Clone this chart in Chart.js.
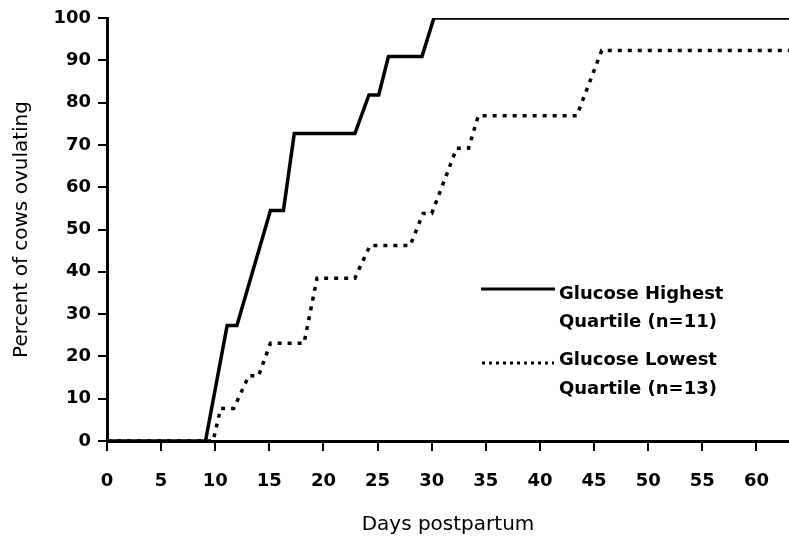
<!DOCTYPE html>
<html>
<head>
<meta charset="utf-8">
<script src="https://cdn.jsdelivr.net/npm/chart.js@4.4.1/dist/chart.umd.min.js"></script>
<style>
  html, body { margin: 0; padding: 0; background: #fff; }
  #wrap { width: 789px; height: 545px; }
</style>
</head>
<body>
<div id="wrap"><canvas id="myChart" width="789" height="545"></canvas></div>
<script>
// days postpartum / percent ovulating
var highDays = [0, 9.1, 11.1, 12.0, 15.1, 16.3, 17.3, 22.9, 24.2, 25.1, 26.0, 29.1, 30.2, 63];
var highPct  = [0, 0, 27.3, 27.3, 54.5, 54.5, 72.7, 72.7, 81.8, 81.8, 90.9, 90.9, 100, 100];

var lowDays = [0, 9.8, 10.5, 11.7, 13.1, 14.0, 15.1, 18.2, 19.4, 22.9, 24.3, 28.0, 29.2, 30.0, 32.3, 33.4, 34.3, 43.4, 45.7, 63];
var lowPct  = [0, 0, 7.7, 7.7, 15.4, 15.4, 23.1, 23.1, 38.5, 38.5, 46.2, 46.2, 53.8, 53.8, 69.2, 69.2, 76.9, 76.9, 92.3, 92.3];

var seriesNames = [
  ['Glucose Highest', 'Quartile (n=11)'],
  ['Glucose Lowest', 'Quartile (n=13)']
];

var xTitle = 'Days postpartum';
var yTitle = 'Percent of cows ovulating';

function toPoints(xs, ys) {
  return xs.map(function (x, i) { return { x: x, y: ys[i] }; });
}

var FONT = "'DejaVu Sans', sans-serif";

// legend drawn inside the plot, two text lines per entry
var insideLegend = {
  id: 'insideLegend',
  afterDraw: function (chart) {
    var ctx = chart.ctx;
    var rows = [
      { x1: 481, x2: 555, ly: 289, ty: [294, 322], dash: [] },
      { x1: 482, x2: 554, ly: 363, ty: [360, 389], dash: [3, 4] }
    ];
    ctx.save();
    rows.forEach(function (r, i) {
      ctx.beginPath();
      ctx.setLineDash(r.dash);
      ctx.lineWidth = 3;
      ctx.strokeStyle = '#000';
      ctx.moveTo(r.x1, r.ly);
      ctx.lineTo(r.x2, r.ly);
      ctx.stroke();
      ctx.setLineDash([]);
      ctx.fillStyle = '#000';
      ctx.font = 'bold 18px ' + FONT;
      ctx.textAlign = 'left';
      ctx.textBaseline = 'middle';
      seriesNames[i].forEach(function (t, j) {
        ctx.fillText(t, 559, r.ty[j]);
      });
    });
    ctx.restore();
  }
};

new Chart(document.getElementById('myChart'), {
  type: 'line',
  data: {
    datasets: [
      {
        label: seriesNames[0].join(' '),
        data: toPoints(highDays, highPct),
        borderColor: '#000',
        borderWidth: 3.5,
        pointRadius: 0,
        tension: 0
      },
      {
        label: seriesNames[1].join(' '),
        data: toPoints(lowDays, lowPct),
        borderColor: '#000',
        borderWidth: 3.5,
        borderDash: [4, 6],
        pointRadius: 0,
        tension: 0
      }
    ]
  },
  options: {
    responsive: false,
    animation: false,
    layout: { padding: { top: 18, right: 0, bottom: 0, left: 0 } },
    plugins: {
      legend: { display: false },
      tooltip: { enabled: false }
    },
    scales: {
      x: {
        type: 'linear',
        min: 0,
        max: 63,
        afterFit: function (s) { s.height = 104; },
        ticks: {
          stepSize: 5,
          includeBounds: false,
          color: '#000',
          padding: 20,
          font: { family: FONT, size: 18, weight: 'bold' }
        },
        grid: { drawOnChartArea: false, drawTicks: true, tickLength: 10, color: '#000', lineWidth: 2 },
        border: { display: true, color: '#000', width: 3 },
        title: {
          display: true,
          text: xTitle,
          color: '#000',
          font: { family: FONT, size: 20 },
          padding: { top: 0, bottom: 8 }
        }
      },
      y: {
        min: 0,
        max: 100,
        afterFit: function (s) { s.width = 107; },
        ticks: {
          stepSize: 10,
          color: '#000',
          padding: 7,
          font: { family: FONT, size: 18, weight: 'bold' }
        },
        grid: { drawOnChartArea: false, drawTicks: true, tickLength: 9, color: '#000', lineWidth: 2 },
        border: { display: true, color: '#000', width: 3 },
        title: {
          display: true,
          text: yTitle,
          color: '#000',
          font: { family: FONT, size: 20 },
          padding: { top: 10, bottom: 0 }
        }
      }
    }
  },
  plugins: [insideLegend]
});
</script>
</body>
</html>
